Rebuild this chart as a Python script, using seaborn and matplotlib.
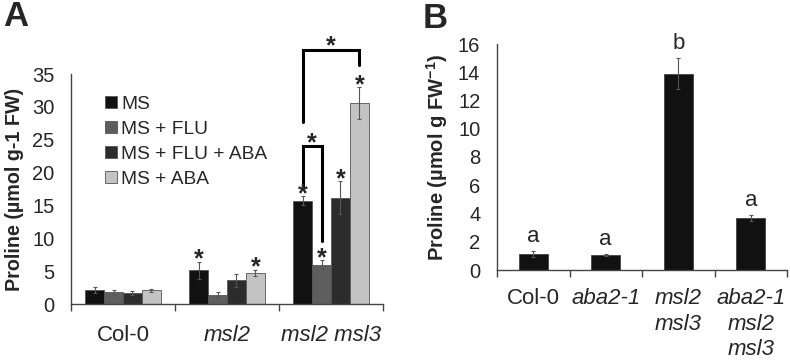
import matplotlib
matplotlib.use("Agg")
import matplotlib.pyplot as plt
import seaborn as sns
import pandas as pd
import numpy as np

# ---------------- data ----------------
genotypes_a = ["Col-0", "msl2", "msl2 msl3"]
treatments = ["MS", "MS + FLU", "MS + FLU + ABA", "MS + ABA"]
ms_vals = [2.1, 5.1, 15.7]
ms_err = [0.5, 1.3, 0.7]
flu_vals = [1.8, 1.4, 6.0]
flu_err = [0.4, 0.4, 0.7]
fluaba_vals = [1.7, 3.6, 16.2]
fluaba_err = [0.3, 1.0, 2.5]
aba_vals = [2.1, 4.7, 30.6]
aba_err = [0.2, 0.5, 2.4]
stars_a = {("msl2", "MS"), ("msl2", "MS + ABA"), ("msl2 msl3", "MS"),
           ("msl2 msl3", "MS + FLU"), ("msl2 msl3", "MS + FLU + ABA"),
           ("msl2 msl3", "MS + ABA")}

genotypes_b = ["Col-0", "aba2-1", "msl2\nmsl3", "aba2-1\nmsl2\nmsl3"]
b_vals = [1.13, 1.06, 13.9, 3.7]
b_err = [0.2, 0.06, 1.1, 0.2]
b_letters = ["a", "a", "b", "a"]

# ---------------- style ----------------
sns.set_style("white")
plt.rcParams["font.family"] = ["Liberation Sans", "DejaVu Sans"]
plt.rcParams["mathtext.fontset"] = "custom"
plt.rcParams["mathtext.rm"] = "Liberation Sans"
plt.rcParams["mathtext.bf"] = "Liberation Sans:bold"

colors = ["#111111", "#5e5e5e", "#2c2c2c", "#c3c3c3"]
spine_c = "#444444"
TICK = 14.5
XLAB = 16
STAR = 18

fig = plt.figure(figsize=(7.9, 3.61), dpi=100)

# ---------------- panel A ----------------
axA = fig.add_axes([71 / 790, 57 / 361, 312 / 790, 230 / 361])
vals = [ms_vals, flu_vals, fluaba_vals, aba_vals]
errs = [ms_err, flu_err, fluaba_err, aba_err]
rows = []
for t, v, e in zip(treatments, vals, errs):
    for g, vv, ee in zip(genotypes_a, v, e):
        rows.append({"genotype": g, "treatment": t, "value": vv, "err": ee})
dfA = pd.DataFrame(rows)
sns.barplot(data=dfA, x="genotype", y="value", hue="treatment", order=genotypes_a,
            hue_order=treatments, palette=colors, width=0.73, errorbar=None,
            edgecolor="#555555", linewidth=0.6, ax=axA)

centers = {}
for t, cont in zip(treatments, axA.containers):
    for g, bar in zip(genotypes_a, cont):
        x = bar.get_x() + bar.get_width() / 2
        h = bar.get_height()
        e = dfA[(dfA.genotype == g) & (dfA.treatment == t)]["err"].iloc[0]
        centers[(g, t)] = (x, h, e)
        axA.errorbar(x, h, yerr=e, color="#555555", lw=0.8, capsize=1.5, capthick=0.8)
        if (g, t) in stars_a:
            axA.text(x, h + e - 1.5, "*", ha="center", va="bottom", fontsize=STAR,
                     fontweight="bold")

axA.set_ylim(0, 35)
axA.set_xlim(-0.5, 2.5)
axA.set_yticks(range(0, 36, 5))
axA.tick_params(axis="y", length=0, pad=12, labelsize=TICK)
axA.set_xticks([-0.5, 0.5, 1.5, 2.5], minor=True)
axA.tick_params(axis="x", which="major", length=0, pad=15, labelsize=XLAB)
axA.tick_params(axis="x", which="minor", length=5, width=1, color=spine_c, direction="out")
axA.xaxis.set_tick_params(which="minor", bottom=True)
lbls = axA.set_xticklabels(genotypes_a)
lbls[1].set_style("italic")
lbls[2].set_style("italic")
axA.set_xlabel("")
axA.set_ylabel("Proline (µmol g-1 FW)", fontsize=14.2, fontweight="bold", labelpad=6)
for s in ["top", "right"]:
    axA.spines[s].set_visible(False)
for s in ["left", "bottom"]:
    axA.spines[s].set_color(spine_c)
    axA.spines[s].set_linewidth(1)

# brackets
xm, hm, em = centers[("msl2 msl3", "MS")]
xf, hf, ef = centers[("msl2 msl3", "MS + FLU")]
xa, ha, ea = centers[("msl2 msl3", "MS + ABA")]
axA.plot([xm, xm, xa, xa], [27.7, 38.7, 38.7, 36.4], color="black", lw=2.2,
         clip_on=False, solid_joinstyle="miter")
axA.text((xm + xa) / 2, 37.4, "*", ha="center", va="bottom", fontsize=STAR,
         fontweight="bold", clip_on=False)
axA.plot([xm, xm, xf, xf], [17.7, 24.0, 24.0, 9.6], color="black", lw=2.2,
         clip_on=False, solid_joinstyle="miter")
axA.text((xm + xf) / 2, 22.6, "*", ha="center", va="bottom", fontsize=STAR,
         fontweight="bold")

leg = axA.legend(loc="upper left", bbox_to_anchor=(0.11, 0.905), frameon=False,
                 fontsize=13.8, handlelength=0.62, handleheight=0.62,
                 handletextpad=0.22, labelspacing=0.42, borderpad=0, borderaxespad=0)

fig.text(3 / 790, 1 - 26 / 361, "A", fontsize=25, fontweight="bold", va="baseline",
         ha="left")

# ---------------- panel B ----------------
axB = fig.add_axes([497 / 790, 91 / 361, 290 / 790, 226 / 361])
dfB = pd.DataFrame({"genotype": genotypes_b, "value": b_vals, "err": b_err})
sns.barplot(data=dfB, x="genotype", y="value", order=genotypes_b, color="#111111",
            width=0.4, errorbar=None, edgecolor="#444444", linewidth=0.6, ax=axB)
for bar, e, letter in zip(axB.containers[0], b_err, b_letters):
    x = bar.get_x() + bar.get_width() / 2
    h = bar.get_height()
    axB.errorbar(x, h, yerr=e, color="#555555", lw=0.8, capsize=1.5, capthick=0.8)
    axB.text(x, h + e + 0.3, letter, ha="center", va="bottom", fontsize=XLAB)

axB.set_ylim(0, 16)
axB.set_xlim(-0.5, 3.5)
axB.set_yticks(range(0, 17, 2))
axB.tick_params(axis="y", length=0, pad=12, labelsize=TICK)
axB.set_xticks([-0.5, 0.5, 1.5, 2.5, 3.5], minor=True)
axB.tick_params(axis="x", which="major", length=0, pad=13, labelsize=XLAB)
axB.tick_params(axis="x", which="minor", length=5, width=1, color=spine_c, direction="out")
axB.xaxis.set_tick_params(which="minor", bottom=True)
lb = axB.set_xticklabels(genotypes_b, va="top", linespacing=1.28)
for i in (1, 2, 3):
    lb[i].set_style("italic")
axB.set_xlabel("")
axB.set_ylabel(r"Proline (µmol g FW$^{\mathbf{-1}}$)", fontsize=14.5, fontweight="bold",
               labelpad=6)
for s in ["top", "right"]:
    axB.spines[s].set_visible(False)
for s in ["left", "bottom"]:
    axB.spines[s].set_color(spine_c)
    axB.spines[s].set_linewidth(1)

fig.text(423 / 790, 1 - 28 / 361, "B", fontsize=25, fontweight="bold", va="baseline",
         ha="left")

fig.savefig("out.png", dpi=100)
